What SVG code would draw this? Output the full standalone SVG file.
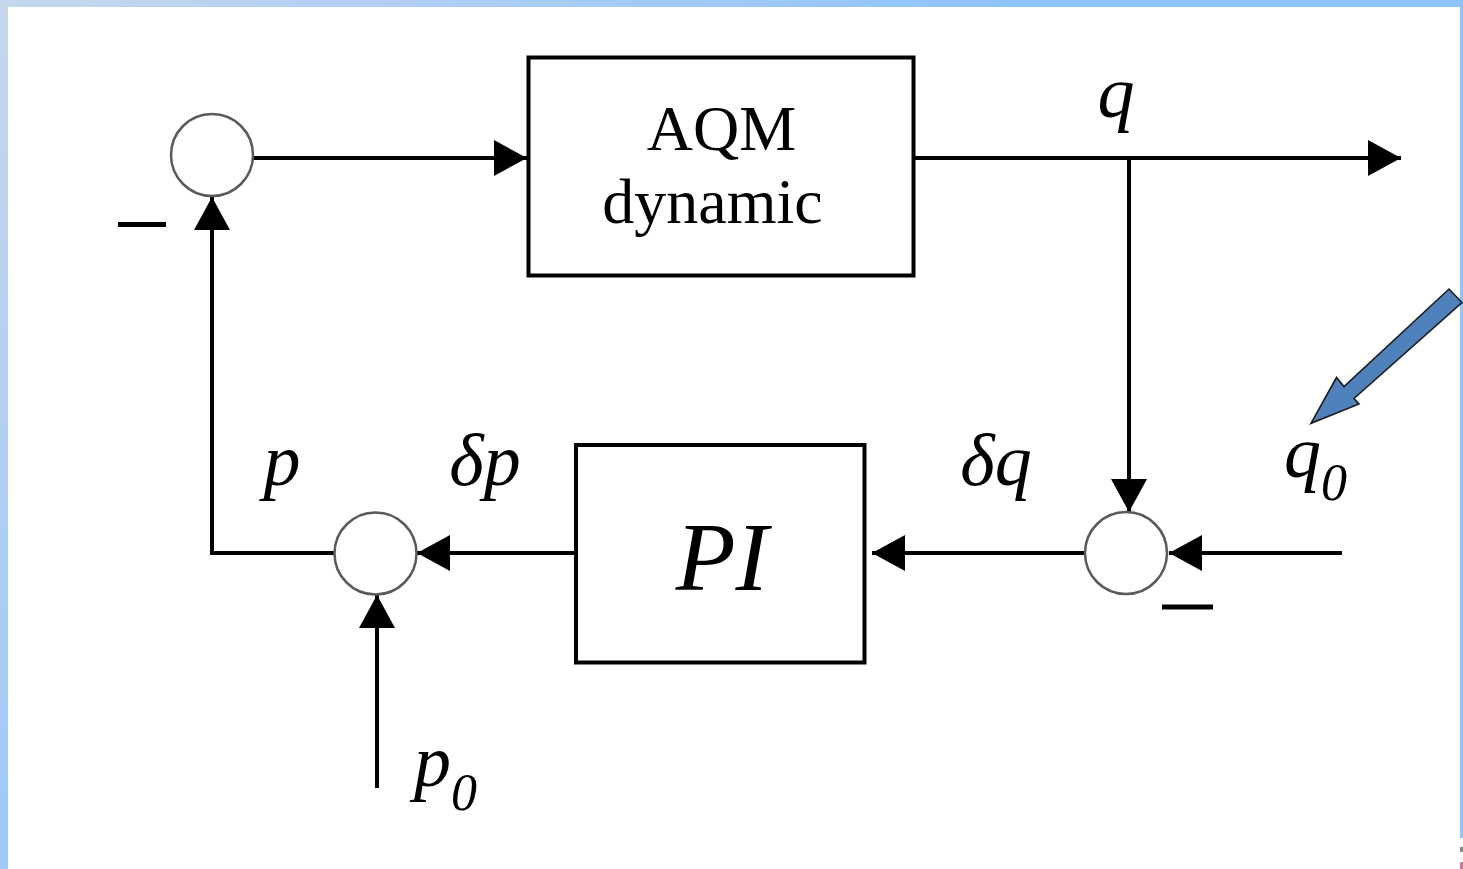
<svg xmlns="http://www.w3.org/2000/svg" width="1463" height="869" viewBox="0 0 1463 869">
<defs>
<linearGradient id="bg" gradientUnits="userSpaceOnUse" x1="0" y1="0" x2="600" y2="500">
<stop offset="0" stop-color="#c6d7ec"/>
<stop offset="1" stop-color="#8fc3fd"/>
</linearGradient>
<marker id="ah" markerUnits="userSpaceOnUse" markerWidth="34" markerHeight="36" refX="33" refY="18" orient="auto" viewBox="0 0 34 36">
<path d="M0,0 L33,18 L0,36 Z" fill="#000"/>
</marker>
<style>
.blk{fill:#fff;stroke:#000;stroke-width:4}
.sum{fill:#fff;stroke:#5a5a5a;stroke-width:2.5}
.wire{fill:none;stroke:#000;stroke-width:4}
.arr{fill:none;stroke:#000;stroke-width:4;marker-end:url(#ah)}
.minus{stroke:#000;stroke-width:5}
.lbl{font-family:"Liberation Serif","Times New Roman",serif;font-style:italic;font-size:74px;fill:#000}
.up{font-family:"Liberation Serif","Times New Roman",serif;font-size:64px;fill:#000}
</style>
</defs>
<rect x="0" y="0" width="1463" height="869" fill="#fff"/>
<g id="frame">
<rect x="0" y="0" width="1463" height="7" fill="url(#bg)"/>
<rect x="0" y="0" width="8" height="869" fill="url(#bg)"/>
<rect x="1460" y="0" width="3" height="838" fill="#8fc3fd"/>
<rect x="1460" y="847" width="3" height="5" fill="#888"/>
<rect x="1460" y="862" width="3" height="7" fill="#d07a90"/>
</g>
<g id="connectors">
<line class="arr" x1="253" y1="158" x2="527" y2="158"/>
<line class="arr" x1="914" y1="158" x2="1401" y2="158"/>
<line class="arr" x1="1129" y1="158" x2="1129" y2="512"/>
<line class="arr" x1="1342" y1="553" x2="1169" y2="553"/>
<line class="arr" x1="1085" y1="553" x2="872" y2="553"/>
<line class="arr" x1="576" y1="553" x2="417" y2="553"/>
<line class="arr" x1="377" y1="788" x2="377" y2="595"/>
<polyline class="arr" points="334,553 212,553 212,197"/>
</g>
<g id="sum1"><circle class="sum" cx="212" cy="155" r="41"/><line class="minus" x1="118" y1="224.5" x2="166" y2="224.5"/></g>
<g id="sum2"><circle class="sum" cx="1126" cy="553" r="41"/><line class="minus" x1="1162" y1="607" x2="1213" y2="607"/></g>
<g id="sum3"><circle class="sum" cx="375.5" cy="553.5" r="41"/></g>
<g id="aqm">
<rect class="blk" x="528.5" y="57.5" width="385" height="218"/>
<text class="up" x="721.5" y="150" text-anchor="middle">AQM</text>
<text class="up" x="712.5" y="223" text-anchor="middle">dynamic</text>
</g>
<g id="pi">
<rect class="blk" x="576" y="445" width="288.5" height="217.5"/>
<text class="lbl" x="722" y="590" text-anchor="middle" style="font-size:98px">PI</text>
</g>
<g id="labels">
<text class="lbl" x="1116" y="117" text-anchor="middle">q</text>
<text class="lbl" x="996" y="485" text-anchor="middle">δq</text>
<text class="lbl" x="282" y="485" text-anchor="middle">p</text>
<text class="lbl" x="485" y="485" text-anchor="middle">δp</text>
<text class="lbl" x="414" y="786">p<tspan style="font-size:52px" dy="24">0</tspan></text>
<text class="lbl" x="1284" y="477">q<tspan style="font-size:52px" dy="23">0</tspan></text>
</g>
<g id="pointer">
<polygon points="1311,423.3 1336.5,377.5 1344,386.5 1449,289 1462,302.5 1354,398.5 1359,404" fill="#4f81bd" stroke="#1c1c1c" stroke-width="1.6" stroke-linejoin="miter"/>
</g>
</svg>
